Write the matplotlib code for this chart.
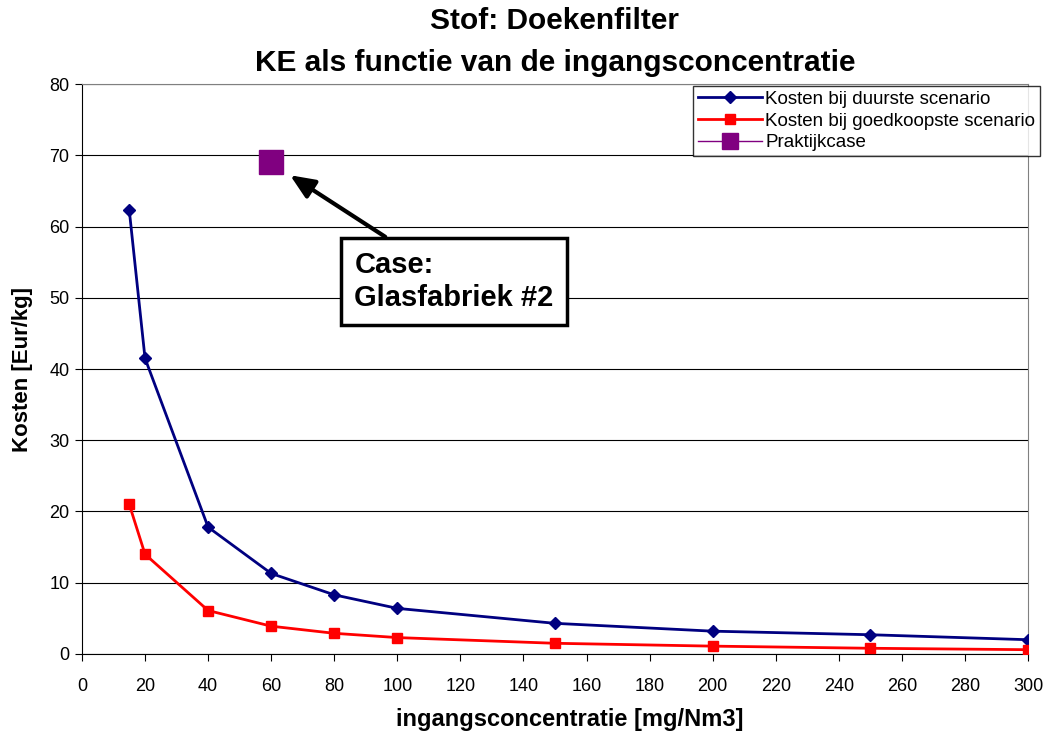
import matplotlib
matplotlib.use("Agg")
import matplotlib.pyplot as plt

plt.rcParams["font.family"] = ["Liberation Sans", "DejaVu Sans"]

# concentration [mg/Nm3]
conc = [15, 20, 40, 60, 80, 100, 150, 200, 250, 300]
# cost per kg, most expensive scenario
cost_high = [62.3, 41.5, 17.8, 11.3, 8.3, 6.4, 4.3, 3.2, 2.7, 2.0]
# cost per kg, cheapest scenario
cost_low = [21.0, 14.0, 6.1, 3.9, 2.9, 2.3, 1.5, 1.1, 0.8, 0.6]
# practice case
case_x = [60]
case_y = [69]

fig = plt.figure(figsize=(10.48, 7.32), dpi=100)
ax = fig.add_axes([0.0782, 0.1066, 0.9028, 0.7786])

ax.plot(conc, cost_high, color="#000080", lw=2, marker="D", markersize=6.5,
        label="Kosten bij duurste scenario", zorder=3)
ax.plot(conc, cost_low, color="#FF0000", lw=2, marker="s", markersize=7,
        label="Kosten bij goedkoopste scenario", zorder=3)
ax.plot(case_x, case_y, color="#800080", lw=1, marker="s", markersize=17,
        linestyle="-", label="Praktijkcase", zorder=4)

ax.annotate("Case:\nGlasfabriek #2", xy=(66, 67.2), xytext=(118, 52.3),
            ha="center", va="center", multialignment="left",
            fontsize=21, fontweight="bold",
            bbox=dict(boxstyle="square,pad=0.45", fc="white", ec="black", lw=2.5),
            arrowprops=dict(arrowstyle="-|>,head_length=0.7,head_width=0.3",
                            color="black", lw=3, shrinkA=0, shrinkB=0),
            zorder=5)

ax.set_xlim(0, 300)
ax.set_ylim(0, 80)
ax.set_xticks(range(0, 301, 20))
ax.set_yticks(range(0, 81, 10))
ax.tick_params(labelsize=13, direction="out", length=5, color="black")
ax.tick_params(axis="x", pad=12)
ax.tick_params(axis="y", pad=4)
ax.grid(axis="y", color="black", lw=0.8)
ax.set_axisbelow(True)

for side in ["top", "right"]:
    ax.spines[side].set_color("#808080")
ax.spines["left"].set_color("black")
ax.spines["bottom"].set_color("black")

ax.set_xlabel("ingangsconcentratie [mg/Nm3]", fontsize=17, fontweight="bold")
ax.xaxis.set_label_coords(0.516, -0.095)
ax.set_ylabel("Kosten [Eur/kg]", fontsize=16, fontweight="bold")
ax.yaxis.set_label_coords(-0.052, 0.5)
fig.suptitle("Stof: Doekenfilter\nKE als functie van de ingangsconcentratie",
             x=555 / 1048, fontsize=21.5, fontweight="bold", y=0.99, linespacing=1.6)

leg = fig.legend(loc="upper right", bbox_to_anchor=(1040 / 1048, 1 - 86 / 732),
                 fontsize=13.5, frameon=True, fancybox=False, borderpad=0.25,
                 labelspacing=0.25, handlelength=3.4, handletextpad=0.2,
                 borderaxespad=0)
leg.get_frame().set_edgecolor("black")
leg.get_frame().set_linewidth(1)
leg.legend_handles[2].set_markersize(11)

fig.savefig("out.png", dpi=100)
